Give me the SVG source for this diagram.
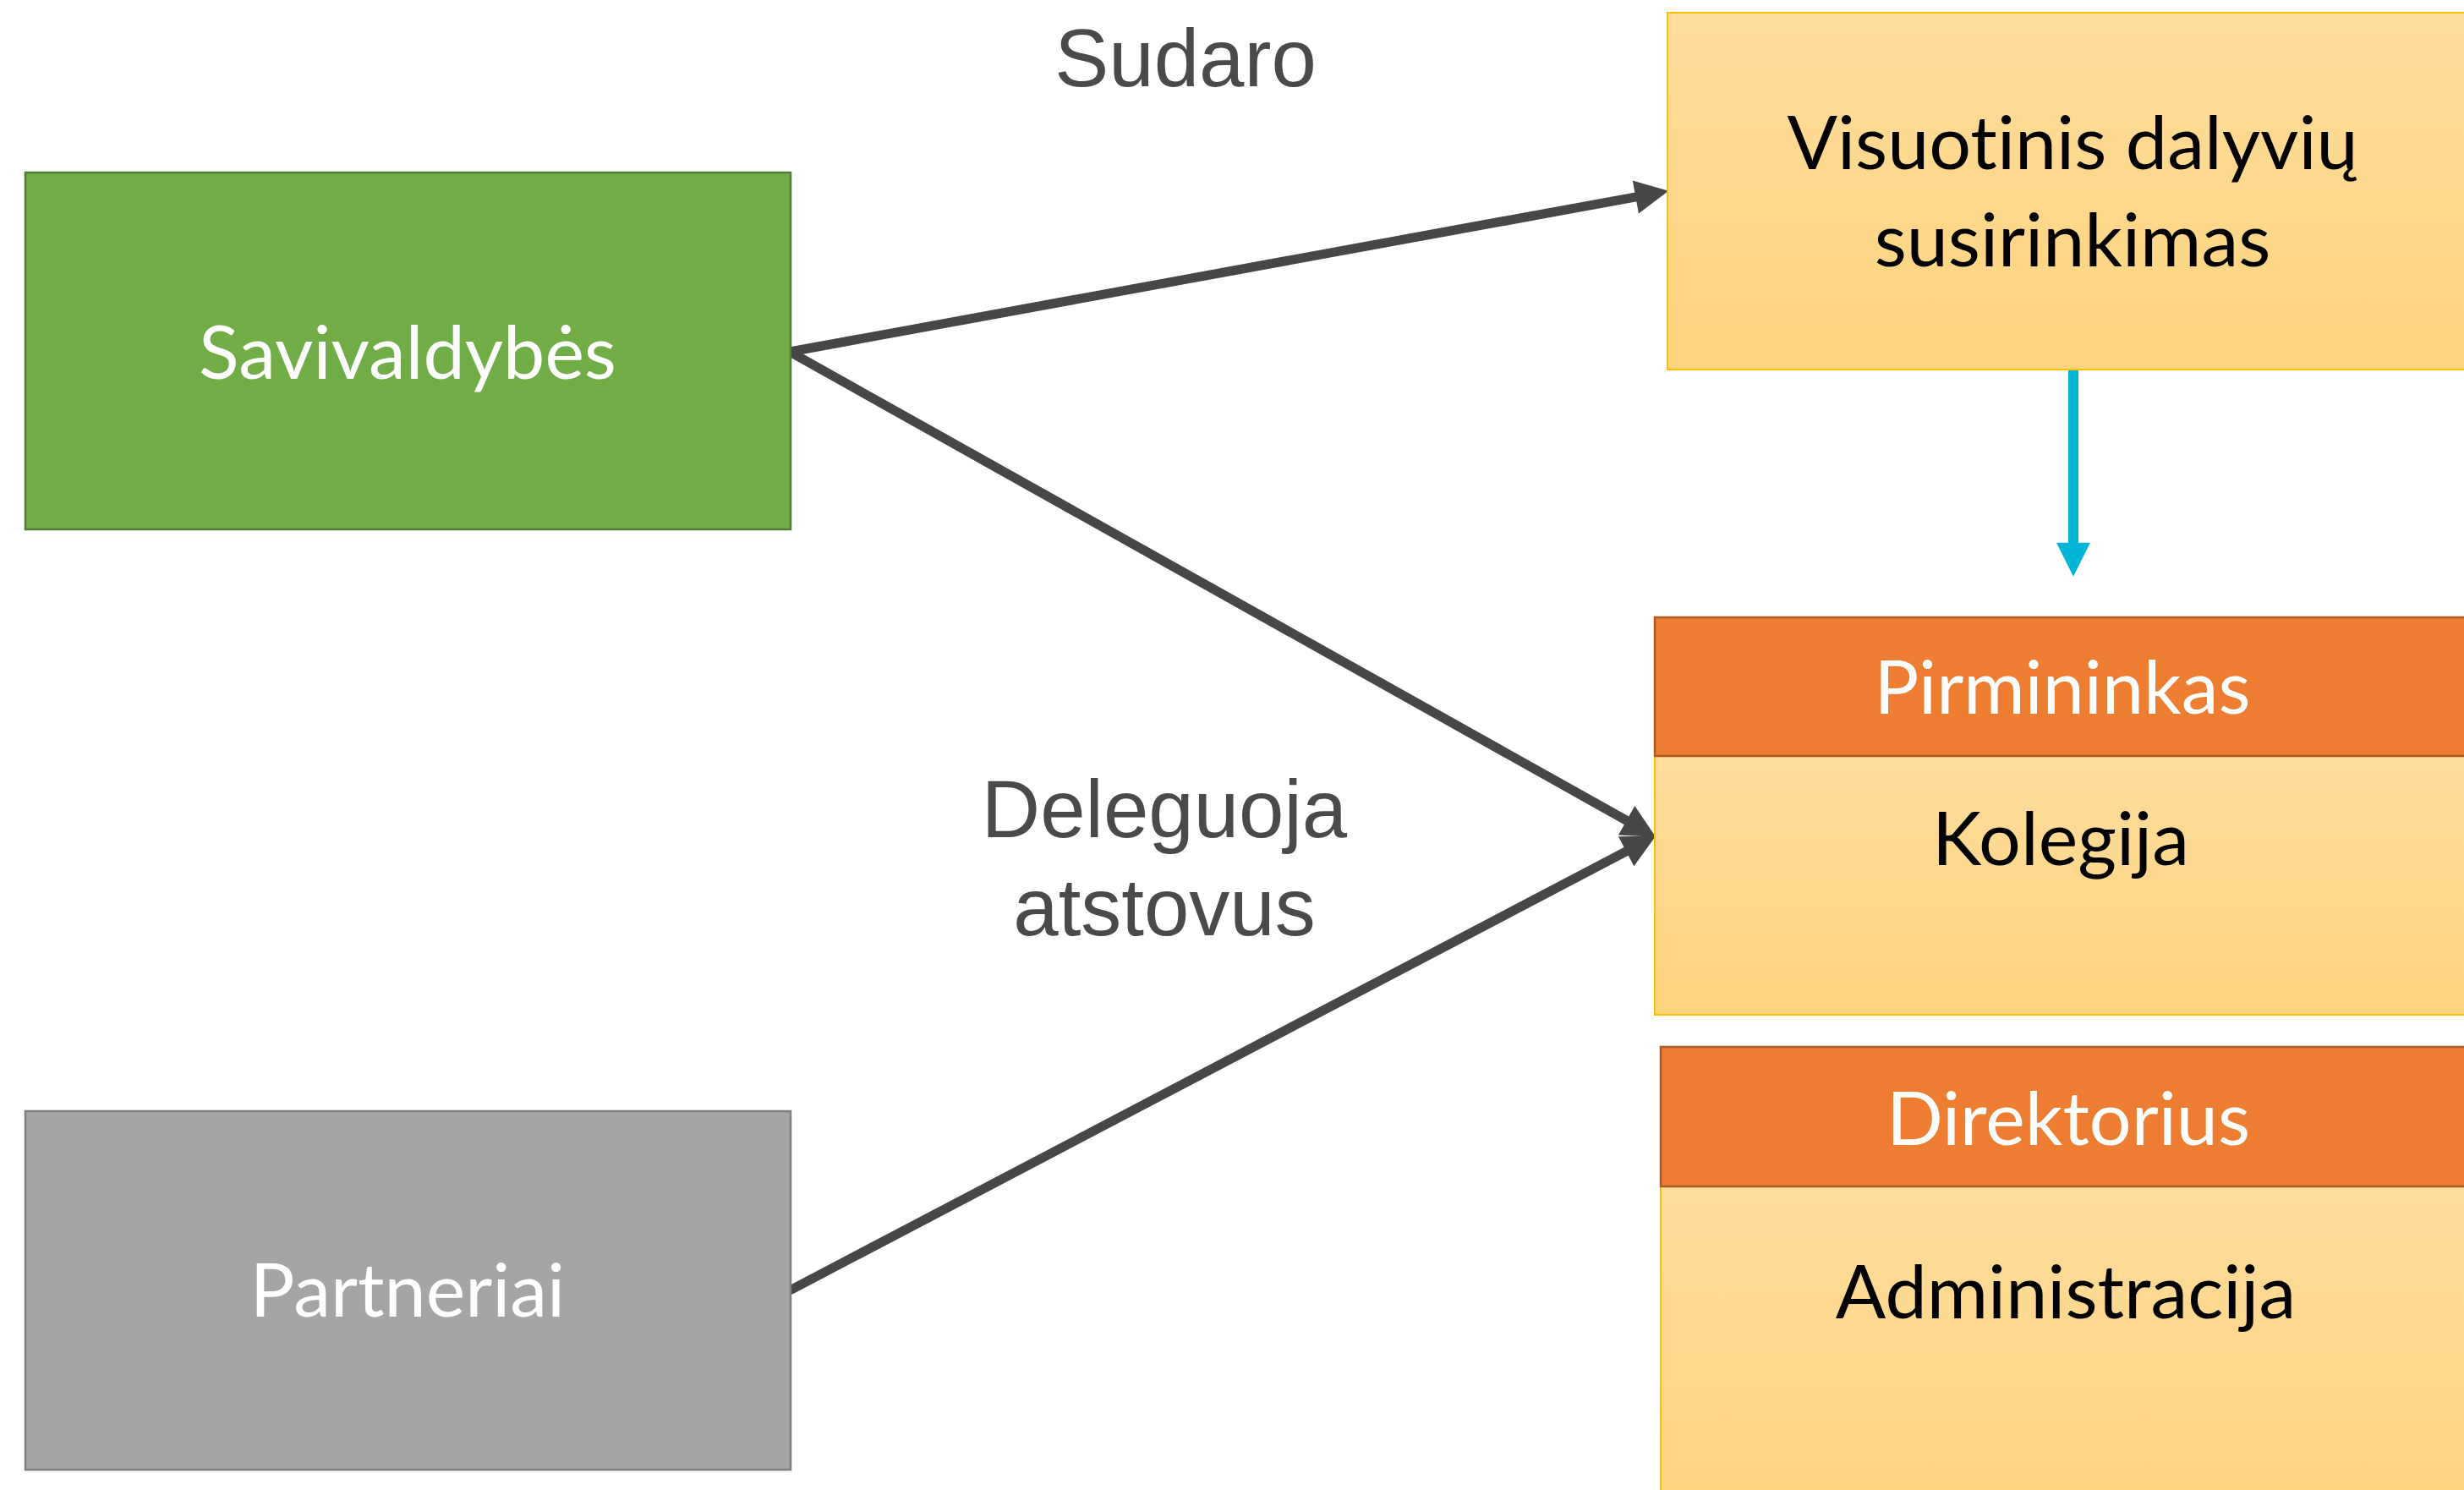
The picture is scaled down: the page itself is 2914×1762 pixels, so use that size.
<svg xmlns="http://www.w3.org/2000/svg" width="2914" height="1762" viewBox="0 0 2914 1762">
  <style>
    .lbl { font-family: Lato, "Open Sans", sans-serif; font-size: 88px; text-anchor: middle; font-variant-ligatures: none; font-feature-settings: "liga" 0; }
    .w { fill: #FFFFFF; }
    .k { fill: #000000; }
    .edge { font-family: "Liberation Sans", Arial, sans-serif; font-size: 96px; fill: #4A4A4A; text-anchor: middle; }
    .gold { fill: url(#goldGrad); stroke: #FFC000; stroke-width: 2; }
    .orange { fill: #ED7D31; stroke: #AE5A21; stroke-width: 2.5; }
    .conn { stroke: #474747; stroke-width: 11; fill: none; marker-end: url(#headDark); }
    .conn2 { stroke: #00B5D6; stroke-width: 12; fill: none; marker-end: url(#headCyan); }
  </style>
  <defs>
    <linearGradient id="goldGrad" x1="0" y1="0" x2="0" y2="1">
      <stop offset="0" stop-color="#FEDC9C"/>
      <stop offset="1" stop-color="#FDD47E"/>
    </linearGradient>
    <marker id="headDark" markerUnits="userSpaceOnUse" markerWidth="50" markerHeight="50" viewBox="-8 -22 48 44" refX="0" refY="0" orient="auto">
      <path d="M-6,-19 L32,0 L-6,19 z" fill="#474747"/>
    </marker>
    <marker id="headCyan" markerUnits="userSpaceOnUse" markerWidth="50" markerHeight="50" viewBox="-5 -20 45 40" refX="0" refY="0" orient="auto">
      <path d="M-3,-18 L33,0 L-3,18 z" fill="#00B5D6"/>
    </marker>
  </defs>
  <rect width="2914" height="1762" fill="#FFFFFF"/>

  <g id="connectors">
    <line class="conn" x1="934" y1="416" x2="1940.5" y2="231.8"/>
    <line class="conn" x1="934" y1="416" x2="1929.1" y2="973.4"/>
    <line class="conn" x1="934" y1="1526" x2="1928.7" y2="1003.9"/>
    <line class="conn2" x1="2452" y1="437" x2="2452" y2="645"/>
    <text class="edge" x="1402" y="102">Sudaro</text>
    <text class="edge" x="1377" y="990">Deleguoja</text>
    <text class="edge" x="1377" y="1106">atstovus</text>
  </g>

  <g id="savivaldybes">
    <rect x="30" y="204" width="905" height="422" fill="#70AD47" stroke="#507E32" stroke-width="2.5"/>
    <text class="lbl w" x="482" y="448">Savivaldybės</text>
  </g>

  <g id="partneriai">
    <rect x="30" y="1314" width="905" height="424" fill="#A5A5A5" stroke="#7F7F7F" stroke-width="2.5"/>
    <text class="lbl w" x="482" y="1557">Partneriai</text>
  </g>

  <g id="visuotinis">
    <rect class="gold" x="1972" y="15" width="960" height="422"/>
    <text class="lbl k" x="2451" y="200">Visuotinis dalyvių</text>
    <text class="lbl k" x="2451" y="315">susirinkimas</text>
  </g>

  <g id="kolegija">
    <rect class="gold" x="1957" y="894" width="960" height="306"/>
    <text class="lbl k" x="2437" y="1023">Kolegija</text>
  </g>

  <g id="pirmininkas">
    <rect class="orange" x="1957" y="730" width="960" height="164"/>
    <text class="lbl w" x="2439" y="844">Pirmininkas</text>
  </g>

  <g id="administracija">
    <rect class="gold" x="1964" y="1403" width="960" height="400"/>
    <text class="lbl k" x="2443" y="1559">Administracija</text>
  </g>

  <g id="direktorius">
    <rect class="orange" x="1964" y="1238" width="960" height="165"/>
    <text class="lbl w" x="2446" y="1354">Direktorius</text>
  </g>
</svg>
